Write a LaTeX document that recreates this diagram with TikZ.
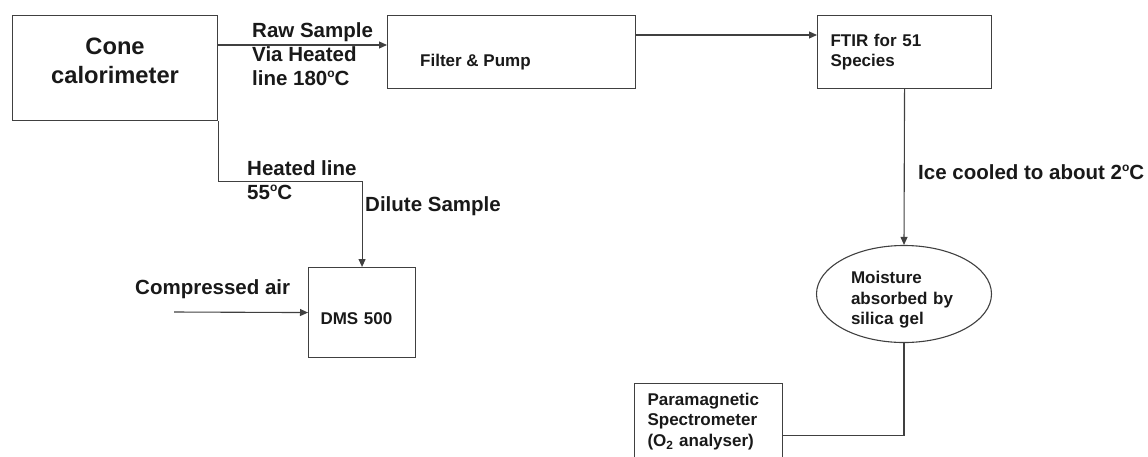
\documentclass[tikz,border=0pt]{standalone}
\usepackage{fontspec}
\setmainfont{Liberation Sans}
\usetikzlibrary{positioning,arrows.meta,shapes.geometric}
\newcommand{\degsup}{\raisebox{0.75ex}{\fontsize{12}{12}\selectfont o}}

\begin{document}
\begin{tikzpicture}[x=1pt, y=-1pt, font=\bfseries,
    box/.style={draw=black!75, line width=1.1pt, anchor=north west, inner sep=0pt, align=left},
    lbl/.style={anchor=west, align=left, inner sep=0pt, text=black!90, font=\fontsize{20.5}{24}\selectfont\bfseries},
    small/.style={text=black!90, font=\fontsize{17}{20.5}\selectfont\bfseries},
    arr/.style={-{Triangle[length=8pt,width=7pt]}, draw=black!75, line width=1.1pt},
    conn/.style={draw=black!75, line width=1.1pt}]
        \useasboundingbox (0,0) rectangle (1148,456);
        % boxes
        \node[box, minimum width=205, minimum height=105, align=center, text depth=14pt, text=black!90, font=\fontsize{23.7}{29}\selectfont\bfseries] (cone) at (12,15) {Cone\\calorimeter};
        \node[box, minimum width=248, minimum height=73] (fp) at (387,15) {};
        \node[small, anchor=west, inner sep=0pt, right=33pt of fp.west, yshift=-10.5pt] (fptext) {Filter \& Pump};
        \node[box, small, minimum height=73, text width=148, inner xsep=13pt] (ftir) at (817,15) {FTIR for 51\\Species};
        \node[ellipse, draw=black!75, line width=1.1pt, small, minimum width=175, minimum height=95, inner sep=0pt, text width=106, text height=24pt, align=left] (moist) at (904,294) {Moisture\\absorbed by\\silica gel};
        \node[box, small, minimum height=90, text width=83, inner xsep=12pt, text height=24pt] (dms) at (308,267) {DMS 500};
        \node[box, small, minimum height=76, text width=122, inner xsep=13pt] (para) at (634,383) {Paramagnetic\\Spectrometer\\(O\textsubscript{2} analyser)};
        % labels
        \node[lbl] (raw) at (252,54) {Raw Sample\\Via Heated\\line 180\degsup C};
        \node[lbl] (heat) at (247,180) {Heated line\\55\degsup C};
        \node[lbl] (dil) at (365,206) {Dilute Sample};
        \node[lbl] (air) at (135,289) {Compressed air};
        \node[lbl] (ice) at (918,172) {Ice cooled to about 2\degsup C};
        \coordinate (airin) at (174,312);
        % connectors
        \draw[arr] ([yshift=-30pt]cone.north east) -- ([yshift=-30pt]fp.north west);
        \draw[arr] ([yshift=-20pt]fp.north east) -- ([yshift=-20pt]ftir.north west);
        \draw[arr] (ftir.south) -- (moist.north);
        \draw[conn] (moist.south) |- ([yshift=-14pt]para.east);
        \draw[arr] (cone.south east) -- ++(0,60) -| (dms.north);
        \draw[arr] (airin) -- (dms.west);
      \end{tikzpicture}
\end{document}
